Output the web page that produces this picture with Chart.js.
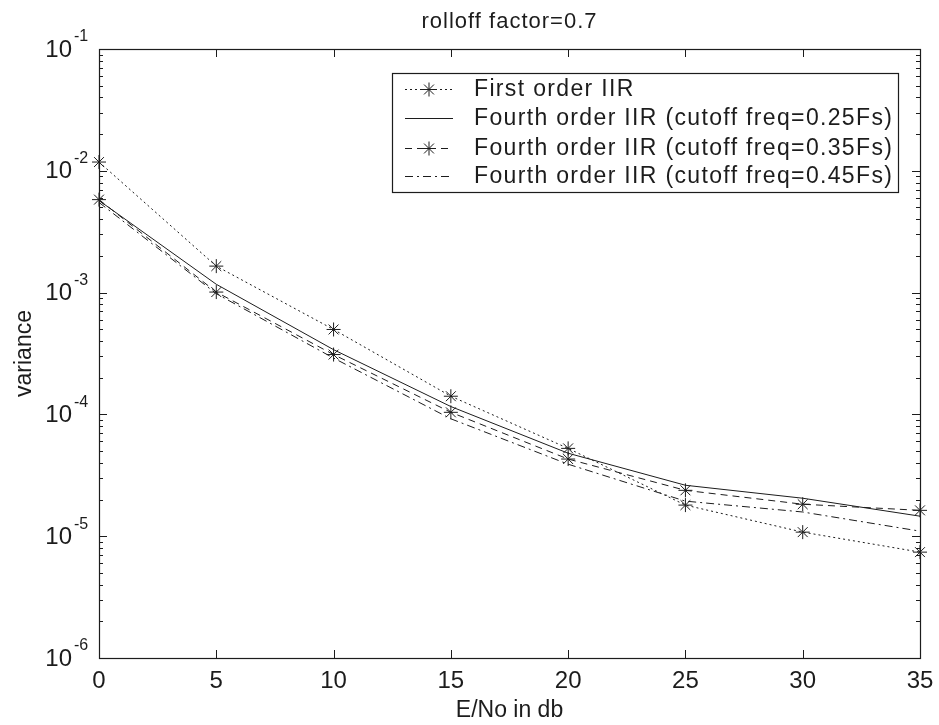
<!DOCTYPE html>
<html>
<head>
<meta charset="utf-8">
<title>rolloff factor=0.7</title>
<script src="https://cdn.jsdelivr.net/npm/chart.js@4.4.1/dist/chart.umd.min.js"></script>
<style>
  html, body { margin: 0; padding: 0; background: #fff; }
  #wrap { width: 939px; height: 725px; }
</style>
</head>
<body>
<div id="wrap"><canvas id="chart" width="939" height="725"></canvas></div>
<script>
// ── Data ─────────────────────────────────────────────────────
const ebno       = [0, 5, 10, 15, 20, 25, 30, 35];
const firstOrder = [0.0118, 0.00165, 4.98e-4, 1.41e-4, 5.26e-5, 1.8e-5,  1.08e-5, 7.4e-6];
const fourth025  = [0.0057, 0.00117, 3.4e-4,  1.16e-4, 4.8e-5,  2.62e-5, 2.05e-5, 1.46e-5];
const fourth035  = [0.0058, 0.00101, 3.1e-4,  1.04e-4, 4.3e-5,  2.38e-5, 1.83e-5, 1.63e-5];
const fourth045  = [0.0055, 0.00098, 2.9e-4,  9.2e-5,  3.9e-5,  1.94e-5, 1.58e-5, 1.1e-5];

const seriesNames = [
  'First order IIR',
  'Fourth order IIR (cutoff freq=0.25Fs)',
  'Fourth order IIR (cutoff freq=0.35Fs)',
  'Fourth order IIR (cutoff freq=0.45Fs)'
];
const xTicks   = [0, 5, 10, 15, 20, 25, 30, 35];
const yDecades = [-1, -2, -3, -4, -5, -6];
const chartTitle = 'rolloff factor=0.7';
const xTitle = 'E/No in db';
const yTitle = 'variance';

const INK  = '#1c1c1c';
const FONT = '"Liberation Sans", Arial, sans-serif';

const pts = arr => ebno.map((x, i) => ({ x, y: arr[i] }));

function lineSet(label, values, dash, marker) {
  return {
    label,
    data: pts(values),
    borderColor: INK,
    borderWidth: 1,
    borderDash: dash,
    pointStyle: 'star',
    pointRadius: marker ? 7 : 0,
    pointBorderColor: INK,
    pointBorderWidth: 1,
    fill: false,
    tension: 0
  };
}

// ── MATLAB-style frame, ticks, labels and legend ─────────────
const matlabFrame = {
  id: 'matlabFrame',
  afterDraw(chart) {
    const { ctx, chartArea: a, scales: { x, y } } = chart;
    ctx.save();
    ctx.strokeStyle = INK;
    ctx.fillStyle = INK;
    ctx.lineWidth = 1.2;
    ctx.strokeRect(a.left + 0.5, a.top + 0.5, a.right - a.left, a.bottom - a.top);

    // ticks (inward)
    ctx.lineWidth = 1;
    ctx.beginPath();
    xTicks.forEach(v => {
      const px = Math.round(x.getPixelForValue(v)) + 0.5;
      ctx.moveTo(px, a.bottom); ctx.lineTo(px, a.bottom - 8);
      ctx.moveTo(px, a.top);    ctx.lineTo(px, a.top + 8);
    });
    yDecades.forEach(e => {
      for (let m = 1; m < 10; m++) {
        const v = m * Math.pow(10, e);
        if (v > y.max * 1.0001) continue;
        const py = Math.round(y.getPixelForValue(v)) + 0.5;
        const len = m === 1 ? 8 : 4;
        ctx.moveTo(a.left, py);  ctx.lineTo(a.left + len, py);
        ctx.moveTo(a.right, py); ctx.lineTo(a.right - len, py);
      }
    });
    ctx.stroke();

    // x tick labels
    ctx.font = '24px ' + FONT;
    ctx.textAlign = 'center';
    ctx.textBaseline = 'top';
    xTicks.forEach(v => ctx.fillText(String(v), x.getPixelForValue(v), a.bottom + 11));

    // y tick labels 10^n
    ctx.textBaseline = 'middle';
    yDecades.forEach(e => {
      const py = y.getPixelForValue(Math.pow(10, e));
      ctx.font = '24px ' + FONT;
      ctx.textAlign = 'right';
      ctx.fillText('10', a.left - 27, py + 1);
      ctx.font = '16px ' + FONT;
      ctx.textAlign = 'left';
      ctx.fillText(String(e), a.left - 25, py - 12);
    });

    // titles
    ctx.font = '22px ' + FONT;
    ctx.textAlign = 'center';
    ctx.textBaseline = 'middle';
    ctx.letterSpacing = '1px';
    ctx.fillText(chartTitle, (a.left + a.right) / 2, 22);
    ctx.letterSpacing = '0px';
    ctx.font = '23px ' + FONT;
    ctx.fillText(xTitle, (a.left + a.right) / 2, 711);
    ctx.save();
    ctx.translate(25, (a.top + a.bottom) / 2);
    ctx.rotate(-Math.PI / 2);
    ctx.fillText(yTitle, 0, 0);
    ctx.restore();

    // legend box
    const box = { l: 392, t: 73, r: 898, b: 192 };
    ctx.fillStyle = '#fff';
    ctx.fillRect(box.l, box.t, box.r - box.l, box.b - box.t);
    ctx.strokeStyle = INK;
    ctx.lineWidth = 1.2;
    ctx.strokeRect(box.l + 0.5, box.t + 0.5, box.r - box.l, box.b - box.t);
    ctx.fillStyle = INK;

    const rowY = [89, 118, 148, 176];
    const textL = 474, textR = 892;
    ctx.font = '23px ' + FONT;
    const longest = seriesNames.reduce((p, s) => s.length > p.length ? s : p, '');
    const spacing = (textR - textL - ctx.measureText(longest).width) / (longest.length - 1);
    chart.data.datasets.forEach((ds, i) => {
      const ry = rowY[i] + 0.5;
      ctx.lineWidth = 1;
      ctx.setLineDash(ds.borderDash || []);
      ctx.beginPath();
      ctx.moveTo(405, ry); ctx.lineTo(453, ry);
      ctx.stroke();
      ctx.setLineDash([]);
      if (ds.pointRadius > 0) {
        Chart.helpers.drawPoint(ctx, { pointStyle: 'star', radius: 7, rotation: 0, borderWidth: 1 }, 429, ry);
      }
      ctx.textAlign = 'left';
      ctx.textBaseline = 'middle';
      ctx.letterSpacing = spacing.toFixed(2) + 'px';
      ctx.fillText(ds.label, textL, rowY[i] + 1);
      ctx.letterSpacing = '0px';
    });
    ctx.restore();
  }
};

new Chart(document.getElementById('chart'), {
  type: 'line',
  data: {
    datasets: [
      lineSet(seriesNames[0], firstOrder, [2, 3], true),
      lineSet(seriesNames[1], fourth025, [], false),
      lineSet(seriesNames[2], fourth035, [7, 5], true),
      lineSet(seriesNames[3], fourth045, [8, 4, 2, 4], false)
    ]
  },
  options: {
    responsive: false,
    animation: false,
    events: [],
    layout: { padding: { left: 99, right: 19, top: 49, bottom: 67 } },
    plugins: { legend: { display: false }, title: { display: false }, tooltip: { enabled: false } },
    scales: {
      x: { type: 'linear', min: 0, max: 35, display: false },
      y: { type: 'logarithmic', min: 1e-6, max: 1e-1, display: false }
    },
    elements: { line: { borderCapStyle: 'butt' } },
    clip: false
  },
  plugins: [matlabFrame]
});
</script>
</body>
</html>
